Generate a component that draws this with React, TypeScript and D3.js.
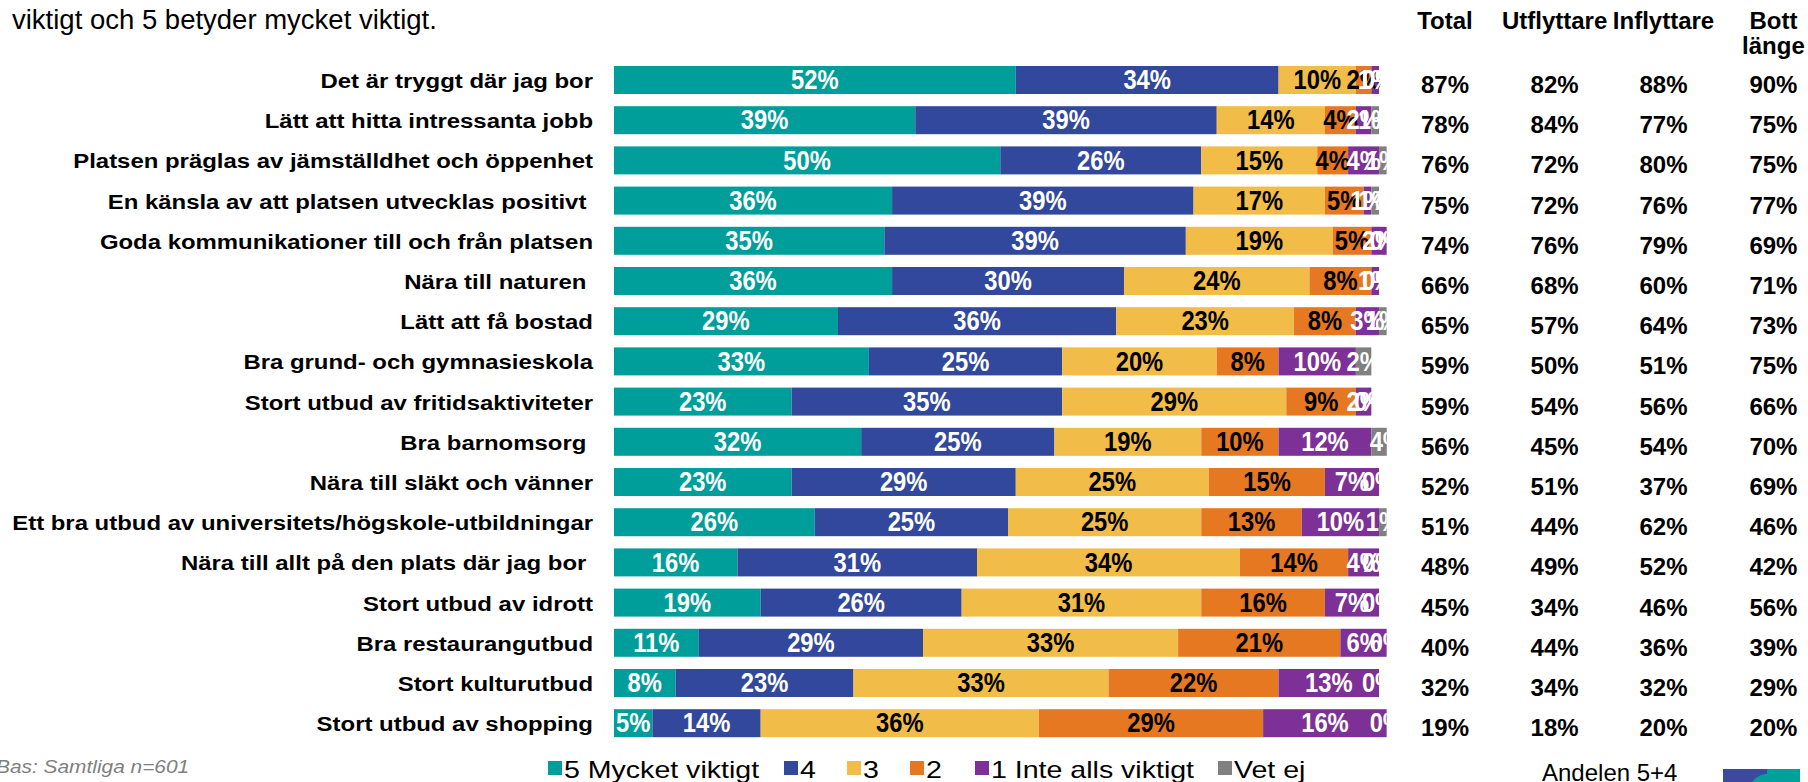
import React from "react";
import * as d3 from "d3";

const categories = [
  "Det är tryggt där jag bor",
  "Lätt att hitta intressanta jobb",
  "Platsen präglas av jämställdhet och öppenhet",
  "En känsla av att platsen utvecklas positivt ",
  "Goda kommunikationer till och från platsen",
  "Nära till naturen ",
  "Lätt att få bostad",
  "Bra grund- och gymnasieskola",
  "Stort utbud av fritidsaktiviteter",
  "Bra barnomsorg ",
  "Nära till släkt och vänner",
  "Ett bra utbud av universitets/högskole-utbildningar",
  "Nära till allt på den plats där jag bor ",
  "Stort utbud av idrott",
  "Bra restaurangutbud",
  "Stort kulturutbud",
  "Stort utbud av shopping",
];

const seriesNames = ["5 Mycket viktigt", "4", "3", "2", "1 Inte alls viktigt", "Vet ej"];
const s5 = [52, 39, 50, 36, 35, 36, 29, 33, 23, 32, 23, 26, 16, 19, 11, 8, 5];
const s4 = [34, 39, 26, 39, 39, 30, 36, 25, 35, 25, 29, 25, 31, 26, 29, 23, 14];
const s3 = [10, 14, 15, 17, 19, 24, 23, 20, 29, 19, 25, 25, 34, 31, 33, 33, 36];
const s2 = [2, 4, 4, 5, 5, 8, 8, 8, 9, 10, 15, 13, 14, 16, 21, 22, 29];
const s1 = [1, 2, 4, 1, 2, 1, 3, 10, 2, 12, 7, 10, 4, 7, 6, 13, 16];
const sVetEj = [0, 1, 1, 1, 0, 0, 1, 2, 0, 4, 0, 1, 0, 0, 0, 0, 0];

const tableHeaders = ["Total", "Utflyttare", "Inflyttare", "Bott|länge"];
const totalCol = [87, 78, 76, 75, 74, 66, 65, 59, 59, 56, 52, 51, 48, 45, 40, 32, 19];
const utflyttareCol = [82, 84, 72, 72, 76, 68, 57, 50, 54, 45, 51, 44, 49, 34, 44, 34, 18];
const inflyttareCol = [88, 77, 80, 76, 79, 60, 64, 51, 56, 54, 37, 62, 52, 46, 36, 32, 20];
const bottLangeCol = [90, 75, 75, 77, 69, 71, 73, 75, 66, 70, 69, 46, 42, 56, 39, 29, 20];

const titleText = "viktigt och 5 betyder mycket viktigt.";
const baseText = "Bas: Samtliga n=601";
const andelText = "Andelen 5+4";

const colors = ["#009e9a", "#32489c", "#f1bc48", "#e67822", "#7d3096", "#808080"];
const labelColors = ["#ffffff", "#ffffff", "#000000", "#000000", "#ffffff", "#ffffff"];

const FONT = "'Liberation Sans', Arial, sans-serif";

function SText(props: any) {
  const { x, y, sx = 1, children, ...rest } = props;
  return (
    <text transform={`translate(${x},${y}) scale(${sx},1)`} fontFamily={FONT} style={{ whiteSpace: "pre" }} {...rest}>
      {children}
    </text>
  );
}

export default function App() {
  const W = 1808;
  const H = 782;
  const series = [s5, s4, s3, s2, s1, sVetEj];
  const rows = categories.map((c, i) => {
    const o: any = { cat: c };
    seriesNames.forEach((k, j) => (o[k] = series[j][i]));
    return o;
  });
  const stacked = d3.stack<any>().keys(seriesNames)(rows);

  const x = d3.scaleLinear().domain([0, 100]).range([613.8, 1386.8]);
  const step = 40.2;
  const r0 = 66 - 0.15175 * step;
  const y = d3
    .scaleBand<string>()
    .domain(categories)
    .range([r0, r0 + categories.length * step])
    .paddingInner(0.3035)
    .paddingOuter(0.15175);
  const bw = y.bandwidth();

  const colCenters = [1445, 1554.6, 1663.5, 1773.4];
  const tableCols = [totalCol, utflyttareCol, inflyttareCol, bottLangeCol];

  const legendX = [548, 784, 847, 910, 975, 1218];

  return (
    <svg width={W} height={H} style={{ display: "block", position: "absolute", left: 0, top: 0 }}>
      <defs>
        <clipPath id="plotclip">
          <rect x={x(0)} y={0} width={x(100) - x(0)} height={H} />
        </clipPath>
      </defs>
      <rect width={W} height={H} fill="#fff" />
      <text x={12} y={29} fontFamily={FONT} fontSize={27.5} fill="#000">
        {titleText}
      </text>

      {categories.map((c) => (
        <SText key={c} x={593} y={(y(c) as number) + bw / 2 + 8} sx={1.14} fontSize={21} fontWeight="bold" textAnchor="end" fill="#000">
          {c}
        </SText>
      ))}

      <g clipPath="url(#plotclip)">
        {stacked.map((s, j) => (
          <g key={s.key} fill={colors[j]}>
            {s.map((d, i) => (
              <rect
                key={i}
                x={x(d[0])}
                y={y(categories[i]) as number}
                width={Math.max(0, x(d[1]) - x(d[0]))}
                height={bw}
              />
            ))}
          </g>
        ))}
        {stacked.map((s, j) => (
          <g key={"l" + s.key}>
            {s.map((d, i) => (
              <SText
                key={i}
                x={(x(d[0]) + x(d[1])) / 2}
                y={(y(categories[i]) as number) + bw / 2 + 9.3}
                sx={0.88}
                fontSize={27}
                fontWeight="bold"
                textAnchor="middle"
                fill={labelColors[j]}
              >
                {`${series[j][i]}%`}
              </SText>
            ))}
          </g>
        ))}
      </g>

      {tableHeaders.map((h, k) =>
        h.split("|").map((line, li) => (
          <text key={h + li} x={colCenters[k]} y={29 + li * 25} fontFamily={FONT} fontSize={24} fontWeight="bold" textAnchor="middle">
            {line}
          </text>
        ))
      )}
      {tableCols.map((col, k) =>
        col.map((v, i) => (
          <text key={k + "-" + i} x={colCenters[k]} y={(y(categories[i]) as number) + bw / 2 + 13} fontFamily={FONT} fontSize={24} fontWeight="bold" textAnchor="middle">
            {`${v}%`}
          </text>
        ))
      )}

      <SText x={-4} y={773} fontSize={18} fontStyle="italic" fill="#7f7f7f" sx={1.16}>
        {baseText}
      </SText>

      {seriesNames.map((n, j) => (
        <g key={"lg" + n}>
          <rect x={legendX[j]} y={761} width={14} height={14} fill={colors[j]} />
          <SText x={legendX[j] + 16} y={777.5} sx={1.19} fontSize={24} fill="#000">
            {n}
          </SText>
        </g>
      ))}

      <text x={1542} y={781} fontFamily={FONT} fontSize={24} fill="#000">
        {andelText}
      </text>
      <g>
        <rect x={1723} y={769} width={44} height={13} fill="#3b4a9c" />
        <rect x={1767} y={769} width={33} height={13} fill="#00a19b" />
        <path d="M1752,782 Q1762,770 1775,776 L1775,782 Z" fill="#00a19b" />
      </g>
    </svg>
  );
}
